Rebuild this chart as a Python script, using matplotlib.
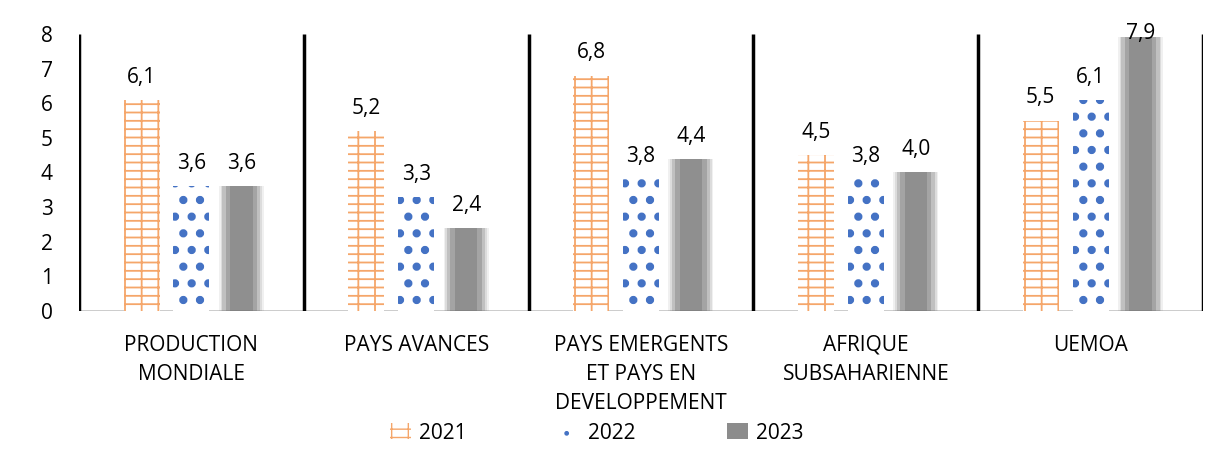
import numpy as np
import matplotlib.pyplot as plt
from matplotlib.patches import Patch

categories = ['PRODUCTION\nMONDIALE', 'PAYS AVANCES', 'PAYS EMERGENTS\nET PAYS EN\nDEVELOPPEMENT',
              'AFRIQUE\nSUBSAHARIENNE', 'UEMOA']
years = ['2021', '2022', '2023']
v2021 = [6.1, 5.2, 6.8, 4.5, 5.5]
v2022 = [3.6, 3.3, 3.8, 3.8, 6.1]
v2023 = [3.6, 2.4, 4.4, 4.0, 7.9]

plt.rcParams['font.family'] = ['Open Sans', 'DejaVu Sans']

fig = plt.figure(figsize=(12.31, 4.55), dpi=100)
ax = fig.add_axes([0.0642, 0.3165, 0.9131, 0.6088])

x = np.arange(len(categories))
w = 0.16
off = 0.222
brick = '#f5a66a'
blue = '#4472c4'

with plt.rc_context({'hatch.linewidth': 1.3}):
    ax.bar(x - off, v2021, w, facecolor='white', edgecolor=brick, hatch='+-', linewidth=0)
with plt.rc_context({'hatch.linewidth': 3.5}):
    ax.bar(x, v2022, w, facecolor='white', edgecolor=blue, hatch='.', linewidth=0)

# blurred grey bars
for ww, a in [(w + 0.04, 0.1), (w + 0.025, 0.15), (w + 0.01, 0.25), (w - 0.02, 0.35), (w - 0.06, 0.4)]:
    ax.bar(x + off, v2023, ww, color='#707070', alpha=a, linewidth=0)

def fmt(v):
    return f'{v:.1f}'.replace('.', ',')

for i in range(len(categories)):
    ax.text(x[i] - off, v2021[i] + 0.35, fmt(v2021[i]), ha='center', va='bottom', fontsize=15)
    ax.text(x[i], v2022[i] + 0.35, fmt(v2022[i]), ha='center', va='bottom', fontsize=15)
    y3 = v2023[i] + 0.35 if v2023[i] < 7.5 else v2023[i] - 0.2
    ax.text(x[i] + off, y3, fmt(v2023[i]), ha='center', va='bottom', fontsize=15)

for s in np.arange(-0.5, len(categories), 1.0):
    ax.vlines(s, 0, 8, color='black', linewidth=2.5, zorder=5)

ax.axhline(0, color='#c8c8c8', linewidth=2, zorder=0)

ax.set_xlim(-0.5, 4.5)
ax.set_ylim(0, 8)
ax.set_yticks(range(0, 9))
ax.tick_params(axis='y', length=0, labelsize=15, pad=19)
ax.set_xticks(x)
ax.set_xticklabels(categories, fontsize=15, linespacing=1.5)
ax.tick_params(axis='x', length=0, pad=17)
for sp in ax.spines.values():
    sp.set_visible(False)

with plt.rc_context({'hatch.linewidth': 1.3}):
    h1 = Patch(facecolor='white', edgecolor=brick, hatch='+-', linewidth=0)
with plt.rc_context({'hatch.linewidth': 3.0}):
    h2 = Patch(facecolor='white', edgecolor=blue, hatch='.', linewidth=0)
h3 = Patch(facecolor='#8c8c8c', linewidth=0)
fig.legend([h1, h2, h3], years, loc='center', bbox_to_anchor=(0.485, 0.048), ncol=3, frameon=False,
           fontsize=15, columnspacing=4.4, handlelength=1.0, handleheight=0.8, handletextpad=0.4)

fig.savefig('out.png', dpi=100)
